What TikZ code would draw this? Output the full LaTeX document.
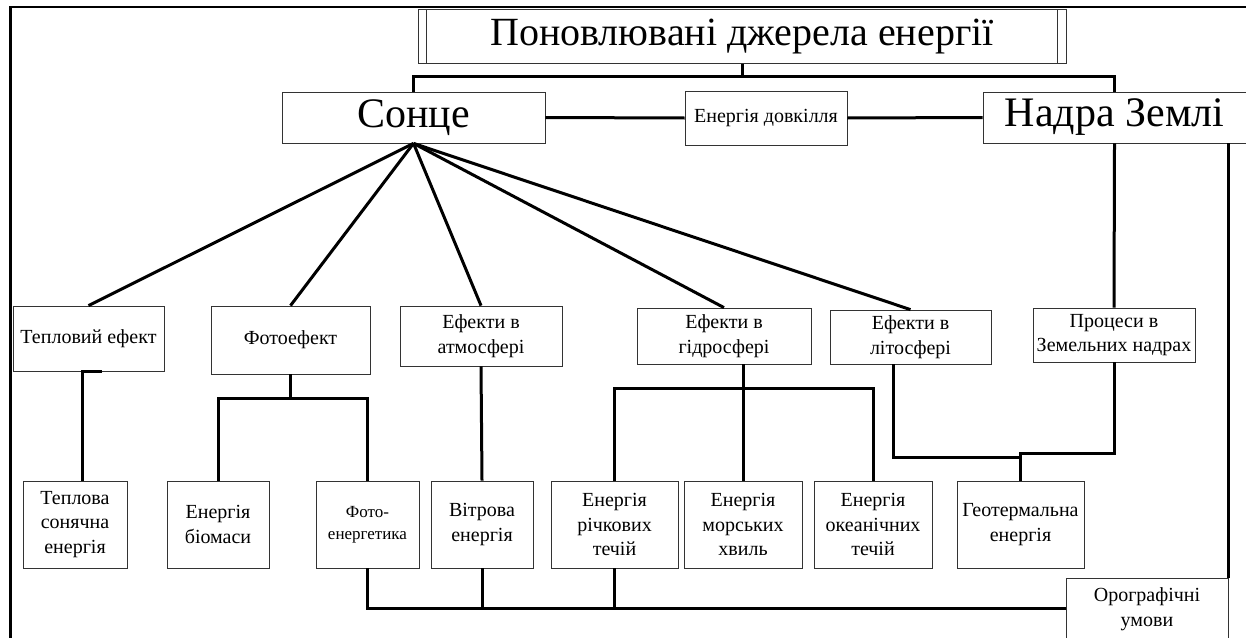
\documentclass[tikz,border=0pt]{standalone}
\usepackage{fontspec}
\setmainfont{Liberation Serif}
\begin{document}
\begin{tikzpicture}[x=1pt,y=-1pt,
  box/.style={draw=black!80, line width=0.8pt, align=center, inner sep=0pt, fill=white,
    font=\fontsize{20}{24.5}\selectfont},
  bigbox/.style={box, font=\fontsize{42}{48}\selectfont},
  conn/.style={line width=3pt, line join=miter}]
\clip (0,0) rectangle (1246,637);
\fill[white] (0,0) rectangle (1246,637);
\draw[line width=2.2pt] (10.5,645) -- (10.5,6.8) -- (1252,6.8);

% top level
\node[box, minimum width=648pt, minimum height=53.5pt, font=\fontsize{40}{48}\selectfont] (title) at (742,36.5) {\raisebox{-2pt}{Поновлювані джерела енергії}};
\draw[draw=black!80, line width=0.8pt] ([xshift=9pt]title.north west) -- ([xshift=9pt]title.south west);
\draw[draw=black!80, line width=0.8pt] ([xshift=-9pt]title.north east) -- ([xshift=-9pt]title.south east);

\node[bigbox, minimum width=263pt, minimum height=51pt] (sonce) at (413.5,117.5) {Сонце};
\node[box, minimum width=162pt, minimum height=54pt] (dovk) at (766,118) {Енергія довкілля};
\node[bigbox, minimum width=263pt, minimum height=51pt] (nadra) at (1114.5,117.5) {\raisebox{-2pt}{Надра Землі}};

% second row
\node[box, minimum width=151pt, minimum height=65pt] (teff) at (88.5,338.5) {Тепловий ефект};
\node[box, minimum width=159pt, minimum height=68pt] (foto) at (290.5,340) {Фотоефект};
\node[box, minimum width=162pt, minimum height=60pt] (atm) at (481,336) {Ефекти в\\атмосфері};
\node[box, minimum width=174pt, minimum height=56pt] (hyd) at (724,336) {Ефекти в\\гідросфері};
\node[box, minimum width=161pt, minimum height=54pt] (lit) at (910.5,337) {Ефекти в\\літосфері};
\node[box, minimum width=162pt, minimum height=54pt] (proc) at (1114,335) {Процеси в\\Земельних надрах};

% third row
\node[box, minimum width=104pt, minimum height=87pt] (tsol) at (75,524.5) {Теплова\\сонячна\\енергія};
\node[box, minimum width=102pt, minimum height=87pt] (bio) at (218,524.5) {Енергія\\біомаси};
\node[box, minimum width=103pt, minimum height=87pt, font=\fontsize{17}{22}\selectfont] (fe) at (367.5,524.5) {Фото-\\енергетика};
\node[box, minimum width=102pt, minimum height=87pt] (vit) at (482,524.5) {Вітрова\\енергія};
\node[box, minimum width=127pt, minimum height=87pt] (rich) at (614.5,524.5) {Енергія\\річкових\\течій};
\node[box, minimum width=118pt, minimum height=87pt] (mor) at (743,524.5) {Енергія\\морських\\хвиль};
\node[box, minimum width=118pt, minimum height=87pt] (okean) at (873,524.5) {Енергія\\океанічних\\течій};
\node[box, minimum width=127pt, minimum height=87pt] (geo) at (1020.5,524.5) {Геотермальна\\енергія};

\node[box, minimum width=162pt, minimum height=62pt] (orog) at (1147,609) {Орографічні\\умови};

% junction coordinates
\coordinate (tj) at (742,76);
\coordinate (fj) at (290.5,398);
\coordinate (hj) at (745,388);
\coordinate (lj) at (1020.5,457);
\coordinate (lk) at (1020.5,453);
\coordinate (bus) at (482,608);

\begin{scope}[conn]
\draw (title.south) -- (tj);
\draw (sonce.north) |- (tj) -| (nadra.north);
\draw (sonce.east) -- (dovk.west);
\draw (dovk.east) -- (nadra.west);

\draw (sonce.south) -- (teff.north);
\draw (sonce.south) -- (foto.north);
\draw (sonce.south) -- (atm.north);
\draw (sonce.south) -- (hyd.north);
\draw (sonce.south) -- (lit.north);

\draw (nadra.south) -- (proc.north);
\draw (nadra.south -| orog.north east) -- (orog.north east);

\draw ([xshift=13.5pt]teff.south) -| ([xshift=7pt]tsol.north);

\draw (foto.south) -- (fj);
\draw (bio.north) |- (fj) -| (fe.north);

\draw (atm.south) -- (vit.north);

\draw (hyd.south -| mor.north) -- (mor.north);
\draw (rich.north) |- (hj) -| (okean.north);

\draw ([xshift=-17.5pt]lit.south) |- (lj) -- (lk) -| (proc.south);
\draw (geo.north) -- (lj);

\draw (fe.south) |- (bus -| orog.west);
\draw (vit.south) -- (bus);
\draw (rich.south) -- (rich.south |- bus);
\end{scope}
\end{tikzpicture}
\end{document}
